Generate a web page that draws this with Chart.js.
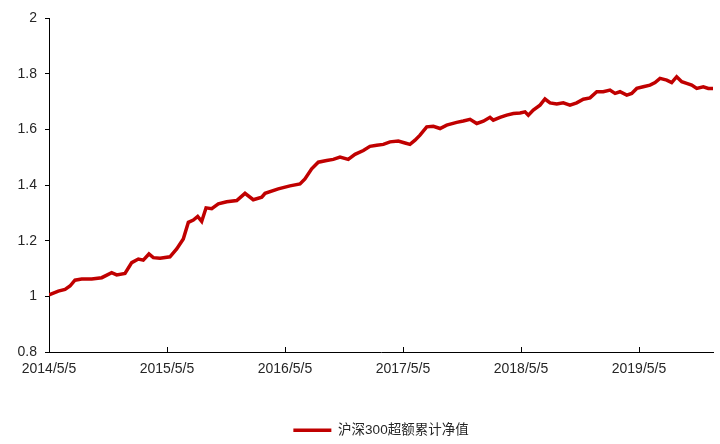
<!DOCTYPE html>
<html>
<head>
<meta charset="utf-8">
<script src="https://cdn.jsdelivr.net/npm/chart.js@4.4.0/dist/chart.umd.min.js"></script>
<style>
  html, body { margin: 0; padding: 0; background: #fff; }
  #wrap { width: 720px; height: 444px; }
</style>
</head>
<body>
<div id="wrap"><canvas id="navChart" width="720" height="444"></canvas></div>
<script>
// Series: x = years after 2014/5/5, y = cumulative excess NAV
const seriesName = '沪深300超额累计净值';
const tickLabels = ['2014/5/5', '2015/5/5', '2016/5/5', '2017/5/5', '2018/5/5', '2019/5/5'];
const xYears = [
    0.000, 0.079, 0.136, 0.178, 0.220, 0.277, 0.362, 0.447, 0.531, 0.574,
    0.644, 0.701, 0.757, 0.799, 0.847, 0.884, 0.941, 1.025, 1.082, 1.138,
    1.181, 1.223, 1.260, 1.294, 1.331, 1.379, 1.435, 1.506, 1.591, 1.661,
    1.731, 1.803, 1.831, 1.943, 2.042, 2.127, 2.169, 2.226, 2.282, 2.353,
    2.409, 2.466, 2.536, 2.593, 2.664, 2.720, 2.777, 2.833, 2.890, 2.960,
    3.017, 3.059, 3.102, 3.144, 3.201, 3.257, 3.314, 3.370, 3.455, 3.511,
    3.568, 3.625, 3.681, 3.737, 3.765, 3.822, 3.879, 3.935, 3.992, 4.034,
    4.062, 4.104, 4.161, 4.203, 4.246, 4.303, 4.358, 4.415, 4.472, 4.528,
    4.585, 4.642, 4.697, 4.754, 4.797, 4.839, 4.896, 4.938, 4.981, 5.036,
    5.093, 5.136, 5.178, 5.235, 5.277, 5.319, 5.362, 5.404, 5.447, 5.489,
    5.545, 5.587, 5.627
];
const navValues = [
    1.005, 1.019, 1.025, 1.037, 1.058, 1.062, 1.062, 1.067, 1.085, 1.077,
    1.082, 1.121, 1.134, 1.130, 1.152, 1.139, 1.137, 1.142, 1.170, 1.206,
    1.266, 1.274, 1.287, 1.269, 1.318, 1.315, 1.332, 1.340, 1.344, 1.370,
    1.347, 1.356, 1.370, 1.386, 1.397, 1.404, 1.422, 1.458, 1.482, 1.488,
    1.492, 1.500, 1.492, 1.510, 1.524, 1.539, 1.543, 1.546, 1.555, 1.558,
    1.551, 1.546, 1.561, 1.579, 1.609, 1.611, 1.603, 1.615, 1.625, 1.630,
    1.636, 1.621, 1.629, 1.643, 1.633, 1.643, 1.651, 1.657, 1.659, 1.663,
    1.651, 1.669, 1.687, 1.709, 1.695, 1.691, 1.695, 1.687, 1.695, 1.708,
    1.713, 1.735, 1.735, 1.741, 1.729, 1.735, 1.723, 1.729, 1.747, 1.753,
    1.759, 1.768, 1.783, 1.777, 1.768, 1.789, 1.771, 1.765, 1.759, 1.747,
    1.753, 1.747, 1.747
];

const axisFont = { family: '"Liberation Sans", Arial, sans-serif', size: 14 };
const textColor = '#262626';

// Excel-style inward tick marks on the x axis
const innerTicks = {
    id: 'innerTicks',
    afterDraw(chart) {
        const x = chart.scales.x;
        const ctx = chart.ctx;
        ctx.save();
        ctx.strokeStyle = '#000';
        ctx.lineWidth = 1;
        ctx.beginPath();
        x.ticks.forEach(t => {
            if (!Number.isInteger(t.value) || t.value === 0) return;
            const px = Math.round(x.getPixelForValue(t.value)) + 0.5;
            ctx.moveTo(px, x.top);
            ctx.lineTo(px, x.top - 5);
        });
        ctx.stroke();
        ctx.restore();
    }
};

new Chart(document.getElementById('navChart'), {
    type: 'line',
    data: {
        datasets: [{
            label: seriesName,
            data: xYears.map((x, i) => ({ x: x, y: navValues[i] })),
            borderColor: '#C00000',
            backgroundColor: '#C00000',
            borderWidth: 3.5,
            pointRadius: 0,
            tension: 0,
            fill: false
        }]
    },
    options: {
        responsive: false,
        animation: false,
        layout: { padding: { top: 18, right: 7, bottom: -3, left: 0 } },
        plugins: {
            legend: {
                position: 'bottom',
                fullSize: false,
                labels: {
                    usePointStyle: true,
                    pointStyle: 'line',
                    pointStyleWidth: 38,
                    padding: 10,
                    color: textColor,
                    font: { family: '"Liberation Sans", "Noto Sans CJK SC", sans-serif', size: 13.5 }
                }
            },
            tooltip: { enabled: false }
        },
        scales: {
            x: {
                type: 'linear',
                min: 0,
                max: 5.627,
                afterFit: s => { s.height = 61.5; },
                border: { display: true, color: '#000', width: 1 },
                grid: { drawOnChartArea: false, drawTicks: false },
                ticks: {
                    stepSize: 1,
                    includeBounds: false,
                    autoSkip: false,
                    maxRotation: 0,
                    padding: 9,
                    color: textColor,
                    font: axisFont,
                    callback: v => Number.isInteger(v) ? (tickLabels[v] || '') : ''
                }
            },
            y: {
                min: 0.8,
                max: 2,
                afterFit: s => { s.width = 49; },
                border: { display: true, color: '#000', width: 1 },
                grid: { drawOnChartArea: false, drawTicks: true, tickLength: 4, color: '#000' },
                ticks: {
                    stepSize: 0.2,
                    padding: 8,
                    color: textColor,
                    font: axisFont,
                    callback: v => String(+v.toFixed(1))
                }
            }
        }
    },
    plugins: [innerTicks]
});
</script>
</body>
</html>
